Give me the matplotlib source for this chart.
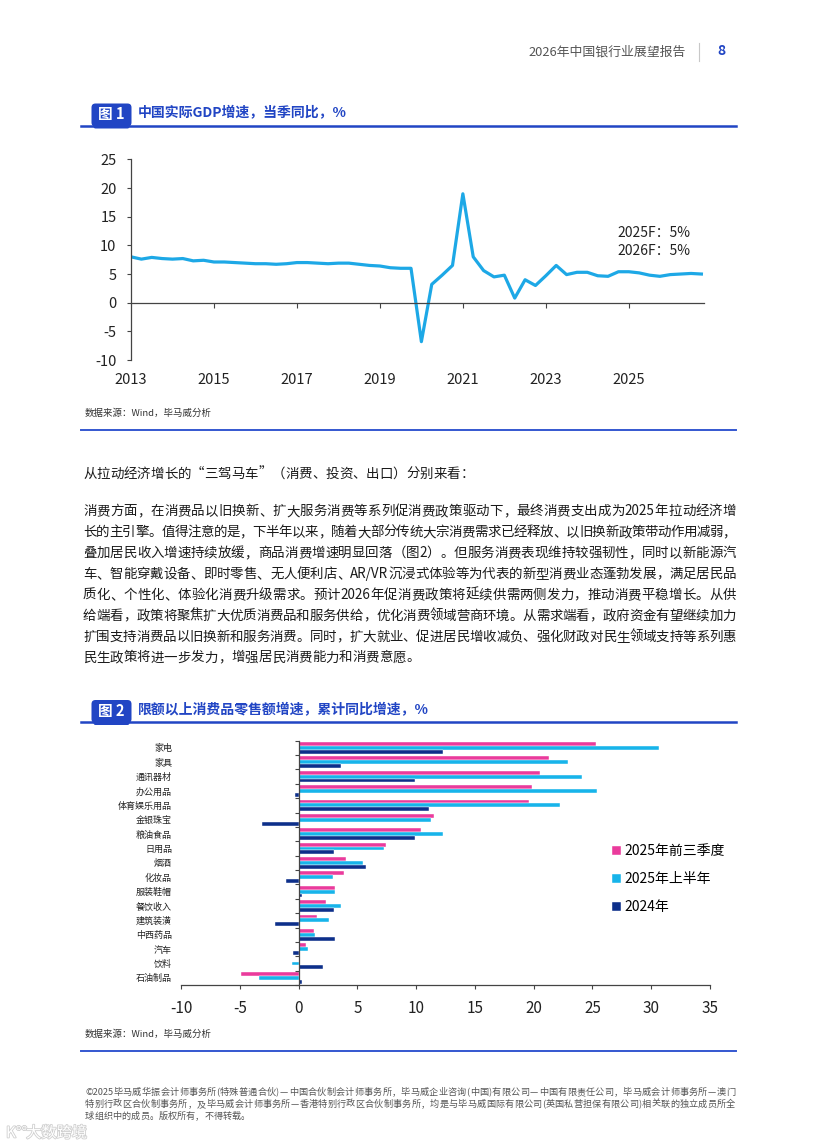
import re
import numpy as np
import pandas as pd
import matplotlib
matplotlib.use('Agg')
import matplotlib.pyplot as plt
from matplotlib.patches import FancyBboxPatch
from matplotlib.lines import Line2D
from matplotlib.font_manager import FontProperties
import matplotlib.patheffects as pe

plt.rcParams['font.family'] = ['Noto Sans CJK SC', 'DejaVu Sans']
plt.rcParams['axes.unicode_minus'] = False

# ---------------- data ----------------
gdp_quarters = pd.period_range('2013Q1', '2026Q4', freq='Q')
gdp_growth = [8.0, 7.6, 7.9, 7.7,
              7.6, 7.7, 7.3, 7.4,
              7.1, 7.1, 7.0, 6.9,
              6.8, 6.8, 6.7, 6.8,
              7.0, 7.0, 6.9, 6.8,
              6.9, 6.9, 6.7, 6.5,
              6.4, 6.1, 6.0, 6.0,
              -6.8, 3.2, 4.8, 6.5,
              19.0, 8.0, 5.6, 4.5,
              4.8, 0.8, 4.0, 3.0,
              4.7, 6.5, 4.9, 5.3,
              5.3, 4.7, 4.6, 5.4,
              5.4, 5.2, 4.8, 4.6,
              4.9, 5.0, 5.1, 5.0]
gdp_year_labels = [2013, 2015, 2017, 2019, 2021, 2023, 2025]
gdp_year_ticks = [2015, 2017, 2019, 2021, 2023, 2025]
gdp_yticks = [-10, -5, 0, 5, 10, 15, 20, 25]
forecast_notes = ['2025F：5%', '2026F：5%']

retail_categories = ['家电', '家具', '通讯器材', '办公用品', '体育娱乐用品', '金银珠宝',
                     '粮油食品', '日用品', '烟酒', '化妆品', '服装鞋帽', '餐饮收入',
                     '建筑装潢', '中西药品', '汽车', '饮料', '石油制品']
retail_2025q3 = [25.3, 21.3, 20.5, 19.9, 19.6, 11.5, 10.4, 7.4, 4.0, 3.9, 3.1, 2.3, 1.6, 1.3, 0.6, 0.1, -4.9]
retail_2025h1 = [30.7, 22.9, 24.1, 25.4, 22.2, 11.3, 12.3, 7.3, 5.5, 2.9, 3.1, 3.6, 2.6, 1.4, 0.8, -0.6, -3.4]
retail_2024 = [12.3, 3.6, 9.9, -0.3, 11.1, -3.1, 9.9, 3.0, 5.7, -1.1, 0.3, 3.0, -2.0, 3.1, -0.5, 2.1, 0.3]
series_labels = ['2025年前三季度', '2025年上半年', '2024年']
retail_xticks = [-10, -5, 0, 5, 10, 15, 20, 25, 30, 35]

header_title = '2026年中国银行业展望报告'
page_no = '8'
fig1_title = '中国实际GDP增速，当季同比，%'
fig2_title = '限额以上消费品零售额增速，累计同比增速，%'
source_text = '数据来源：Wind，毕马威分析'
intro_line = '从拉动经济增长的“三驾马车”（消费、投资、出口）分别来看：'
body_lines = [
    '消费方面，在消费品以旧换新、扩大服务消费等系列促消费政策驱动下，最终消费支出成为2025年拉动经济增',
    '长的主引擎。值得注意的是，下半年以来，随着大部分传统大宗消费需求已经释放、以旧换新政策带动作用减弱，',
    '叠加居民收入增速持续放缓，商品消费增速明显回落（图2）。但服务消费表现维持较强韧性，同时以新能源汽',
    '车、智能穿戴设备、即时零售、无人便利店、AR/VR沉浸式体验等为代表的新型消费业态蓬勃发展，满足居民品',
    '质化、个性化、体验化消费升级需求。预计2026年促消费政策将延续供需两侧发力，推动消费平稳增长。从供',
    '给端看，政策将聚焦扩大优质消费品和服务供给，优化消费领域营商环境。从需求端看，政府资金有望继续加力',
    '扩围支持消费品以旧换新和服务消费。同时，扩大就业、促进居民增收减负、强化财政对民生领域支持等系列惠',
    '民生政策将进一步发力，增强居民消费能力和消费意愿。',
]
footer_lines = [
    '©2025毕马威华振会计师事务所(特殊普通合伙)—中国合伙制会计师事务所，毕马威企业咨询(中国)有限公司—中国有限责任公司，毕马威会计师事务所—澳门',
    '特别行政区合伙制事务所，及毕马威会计师事务所—香港特别行政区合伙制事务所，均是与毕马威国际有限公司(英国私营担保有限公司)相关联的独立成员所全',
    '球组织中的成员。版权所有，不得转载。',
]

# ---------------- helpers ----------------
W, H = 816, 1145
fig = plt.figure(figsize=(W / 100, H / 100), dpi=100)
renderer = fig.canvas.get_renderer()

BLUE = '#2145c4'


def fx(x):
    return x / W


def fy(y):
    return 1 - y / H


def inch(x, y):
    return (x / 100, (H - y) / 100)


def draw_line_text(text, x0, x1, yc, fs, color, justify=True, weight='normal'):
    tokens = re.findall(r'[\x21-\x7e©]+|.', text)
    em = fs * 100 / 72
    fp = FontProperties(family=['Noto Sans CJK SC'], size=fs, weight=weight)
    widths = []
    for t in tokens:
        if len(t) == 1 and ord(t) > 0x2000:
            widths.append(em)
        else:
            w, _, _ = renderer.get_text_width_height_descent(t, fp, ismath=False)
            widths.append(w + 0.02 * em)
    total = sum(widths)
    extra = (x1 - x0 - total) / max(len(tokens) - 1, 1) if justify else 0
    base = yc + 0.36 * em
    x = x0
    for t, w in zip(tokens, widths):
        fig.text(fx(x), fy(base), t, fontsize=fs, color=color, weight=weight,
                 ha='left', va='baseline')
        x += w + extra


def badge(y_line, label, title):
    top = y_line - 22
    fig.patches.append(FancyBboxPatch(inch(91.5, y_line + 1), 40 / 100, (y_line + 1 - top) / 100,
                                      boxstyle='round,pad=0,rounding_size=0.04',
                                      transform=fig.dpi_scale_trans, facecolor=BLUE,
                                      edgecolor='none', zorder=3))
    fig.patches.append(FancyBboxPatch(inch(93.5, y_line + 3), 36 / 100, 6 / 100,
                                      boxstyle='round,pad=0,rounding_size=0.02',
                                      transform=fig.dpi_scale_trans, facecolor=BLUE,
                                      edgecolor='none', zorder=3))
    fig.add_artist(Line2D([fx(81), fx(736)], [fy(y_line), fy(y_line)], color=BLUE, lw=1.8, zorder=2))
    fig.text(fx(111.5), fy(top + 11), label, ha='center', va='center', fontsize=10.5,
             weight='bold', color='white', zorder=4)
    fig.text(fx(137.5), fy(top + 10), title, ha='left', va='center', fontsize=10,
             weight='bold', color=BLUE)


def separator(y):
    fig.add_artist(Line2D([fx(81), fx(736)], [fy(y), fy(y)], color='#3457d0', lw=1.4))


# ---------------- header ----------------
fig.text(fx(686), fy(52.5), header_title, ha='right', va='center', fontsize=9.3, color='#555555')
fig.add_artist(Line2D([fx(698.7), fx(698.7)], [fy(42.5), fy(61)], color='#c8c8c8', lw=0.8))
fig.text(fx(721.5), fy(51), page_no, ha='center', va='center', fontsize=10, color=BLUE, weight='bold')

# ---------------- figure 1 ----------------
badge(125.5, '图 1', fig1_title)

ax1 = fig.add_axes([fx(131), fy(360), fx(704.3) - fx(131), (360 - 159.4) / H])
gdp_x = gdp_quarters.year + (gdp_quarters.quarter - 1) / 4
ax1.plot(gdp_x, gdp_growth, color='#1DA8E6', lw=2.3, solid_joinstyle='round')
ax1.set_xlim(2013, 2026.82)
ax1.set_ylim(-10, 25)
for s in ['top', 'right']:
    ax1.spines[s].set_visible(False)
ax1.spines['bottom'].set_position(('data', 0))
for s in ['bottom', 'left']:
    ax1.spines[s].set_color('#444444')
    ax1.spines[s].set_linewidth(0.9)
ax1.set_yticks(gdp_yticks)
ax1.tick_params(axis='y', direction='out', length=3.1, width=0.8, pad=7.4,
                labelsize=10.5, color='#444444', labelcolor='#222222')
ax1.set_xticks(gdp_year_ticks)
ax1.tick_params(axis='x', direction='out', length=3.3, width=0.8, color='#444444', labelbottom=False)
for yr in gdp_year_labels:
    ax1.annotate(str(yr), xy=(yr, -10), xycoords='data', xytext=(0, -14.5),
                 textcoords='offset points', ha='center', va='center', fontsize=10.5,
                 color='#222222', annotation_clip=False)
fig.text(fx(617.3), fy(233.3), forecast_notes[0], ha='left', va='center', fontsize=10, color='#222222')
fig.text(fx(617.3), fy(250.7), forecast_notes[1], ha='left', va='center', fontsize=10, color='#222222')

fig.text(fx(85), fy(413), source_text, ha='left', va='center', fontsize=6.8, color='#333333')
separator(429.8)

# ---------------- body text ----------------
draw_line_text(intro_line, 83, 735, 472.7, 9.7, '#1a1a1a', justify=False)
for i, line in enumerate(body_lines):
    draw_line_text(line, 83, 736, 510.3 + i * 20.9, 9.7, '#1a1a1a', justify=(i < len(body_lines) - 1))

# ---------------- figure 2 ----------------
badge(722, '图 2', fig2_title)

ax2 = fig.add_axes([fx(181), fy(985), fx(710) - fx(181), (985 - 740.7) / H])
n = len(retail_categories)
ypos = np.arange(n)
bh = 0.27
b1 = ax2.barh(ypos - 0.27, retail_2025q3, height=bh, color='#EA3B9C', edgecolor='white',
              linewidth=0.3, label=series_labels[0])
b2 = ax2.barh(ypos, retail_2025h1, height=bh, color='#17B4EA', edgecolor='white',
              linewidth=0.3, label=series_labels[1])
b3 = ax2.barh(ypos + 0.27, retail_2024, height=bh, color='#0D2F8A', edgecolor='white',
              linewidth=0.3, label=series_labels[2])
ax2.set_ylim(n - 0.5, -0.5)
ax2.set_xlim(-10, 35)
ax2.spines['top'].set_visible(False)
ax2.spines['left'].set_visible(False)
ax2.spines['right'].set_position(('data', 0))
for s in ['right', 'bottom']:
    ax2.spines[s].set_color('#444444')
    ax2.spines[s].set_linewidth(0.9)
ax2.set_yticks(ypos, labels=retail_categories)
ax2.set_yticks(np.arange(n + 1) - 0.5, minor=True)
ax2.tick_params(axis='y', which='major', left=True, right=False, length=0, pad=6.5,
                labelsize=6.5, labelcolor='#222222')
ax2.tick_params(axis='y', which='minor', left=False, right=True, direction='in',
                length=3, width=0.8, color='#444444')
ax2.set_xticks(retail_xticks)
ax2.tick_params(axis='x', direction='out', length=3, width=0.8, pad=8, labelsize=11,
                color='#444444', labelcolor='#222222')
ax2.legend(handles=[b1, b2, b3], loc='upper left', bbox_to_anchor=(fx(611.5), fy(844.5)),
           bbox_transform=fig.transFigure, frameon=False, fontsize=10,
           handlelength=0.65, handleheight=0.65, handletextpad=0.3, labelspacing=1.0,
           borderpad=0, borderaxespad=0)

fig.text(fx(85), fy(1034), source_text, ha='left', va='center', fontsize=6.8, color='#333333')
separator(1050.7)

# ---------------- footer ----------------
for i, line in enumerate(footer_lines):
    draw_line_text(line, 85, 735, 1091.5 + i * 12, 6.6, '#555555', justify=(i < len(footer_lines) - 1))

fig.text(fx(6), fy(1133), 'K°°', ha='left', va='center', fontsize=11, color='white',
         path_effects=[pe.withStroke(linewidth=1.2, foreground='#cfcfcf')])
fig.text(fx(26), fy(1133), '大数跨境', ha='left', va='center', fontsize=11, color='white',
         path_effects=[pe.withStroke(linewidth=1.2, foreground='#cfcfcf')])

fig.savefig('out.png', dpi=100)
